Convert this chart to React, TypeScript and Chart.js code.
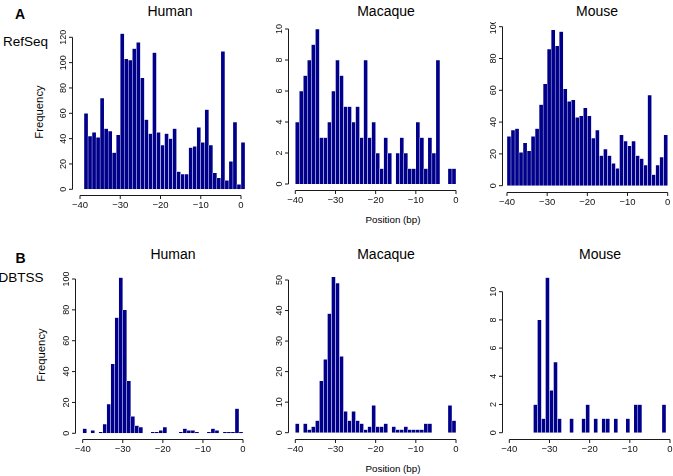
import React, { useEffect, useRef } from "react";
import { Chart, registerables } from "chart.js";

Chart.register(...registerables);

// ---------- data ----------
const positionTicks = [-40, -30, -20, -10, 0];

// RefSeq histograms (counts per 1-bp bin, first bin start given separately)
const refseqHumanStart = -39;
const refseqHuman = [60, 42, 45, 41, 72, 48, 46, 29, 43, 123, 103, 102, 111, 116, 88, 55, 44, 108, 45, 35, 44, 40, 48, 14, 12, 12, 33, 34, 49, 37, 63, 35, 13, 9, 109, 7, 22, 53, 4, 37];
const refseqHumanTicks = [0, 20, 40, 60, 80, 100, 120];

const refseqMacaqueStart = -40;
const refseqMacaque = [4, 6, 7, 8, 9, 10, 3, 3, 4, 6, 8, 7, 5, 5, 4, 5, 3, 8, 3, 4, 2, 1, 3, 2, 0, 2, 3, 2, 1, 1, 4, 3, 1, 3, 2, 8, 0, 0, 1, 1];
const refseqMacaqueTicks = [0, 2, 4, 6, 8, 10];

const refseqMouseStart = -40;
const refseqMouse = [31, 35, 36, 21, 27, 22, 31, 36, 51, 64, 86, 98, 88, 97, 61, 53, 54, 43, 44, 49, 44, 30, 35, 19, 23, 19, 14, 11, 32, 28, 25, 28, 19, 17, 13, 57, 7, 13, 18, 32];
const refseqMouseTicks = [0, 20, 40, 60, 80, 100];

// DBTSS histograms
const dbtssHumanStart = -40;
const dbtssHuman = [3, 0, 2, 0, 1, 6, 19, 45, 75, 101, 80, 34, 11, 5, 4, 0, 0, 1, 1, 2, 4, 0, 0, 0, 1, 3, 2, 2, 1, 0, 0, 1, 3, 2, 0, 1, 1, 1, 16, 1];
const dbtssHumanTicks = [0, 20, 40, 60, 80, 100];

const dbtssMacaqueStart = -40;
const dbtssMacaque = [3, 0, 3, 1, 2, 4, 17, 24, 39, 51, 49, 25, 7, 4, 7, 4, 3, 1, 2, 9, 2, 2, 3, 0, 2, 1, 1, 2, 1, 1, 1, 1, 3, 3, 0, 0, 0, 0, 9, 4];
const dbtssMacaqueTicks = [0, 10, 20, 30, 40, 50];

const dbtssMouseStart = -40;
const dbtssMouse = [0, 0, 0, 0, 0, 0, 2, 8, 1, 11, 3, 5, 1, 0, 0, 1, 0, 0, 1, 2, 0, 1, 0, 1, 1, 0, 1, 0, 0, 1, 0, 2, 2, 0, 0, 0, 0, 0, 2, 0];
const dbtssMouseTicks = [0, 2, 4, 6, 8, 10];

// ---------- styles ----------
const BAR = "#00008B";
const EDGE = "rgba(255,255,255,0.85)";
const AXIS = "#1a1a1a";
const FONT = '"Liberation Sans", Arial, Helvetica, sans-serif';

const fmt = (v: number) => (v < 0 ? "\u2212" + String(-v) : String(v));

const rAxes = {
  id: "rAxes",
  afterDraw(chart: any, _args: any, opts: any) {
    const { ctx } = chart;
    const xs = chart.scales.x;
    const ys = chart.scales.y;
    ctx.save();
    ctx.strokeStyle = AXIS;
    ctx.fillStyle = "#111";
    ctx.lineWidth = 1;
    // x axis
    const base = ys.getPixelForValue(0);
    const ay = Math.round(base + opts.xGap) + 0.5;
    const xa = xs.getPixelForValue(positionTicks[0]);
    const xb = xs.getPixelForValue(positionTicks[positionTicks.length - 1]);
    ctx.beginPath();
    ctx.moveTo(xa, ay);
    ctx.lineTo(xb, ay);
    for (const t of positionTicks) {
      const px = xs.getPixelForValue(t);
      ctx.moveTo(px, ay);
      ctx.lineTo(px, ay + 3.5);
    }
    ctx.stroke();
    ctx.font = "9.5px " + FONT;
    ctx.textAlign = "center";
    ctx.textBaseline = "middle";
    for (const t of positionTicks) {
      ctx.fillText(fmt(t), xs.getPixelForValue(t), ay + 9.5);
    }
    // y axis
    const yt: number[] = opts.yTicks;
    const ax = Math.round(xa - opts.yGap) + 0.5;
    const ya = ys.getPixelForValue(yt[0]);
    const yb = ys.getPixelForValue(yt[yt.length - 1]);
    ctx.beginPath();
    ctx.moveTo(ax, ya);
    ctx.lineTo(ax, yb);
    for (const t of yt) {
      const py = ys.getPixelForValue(t);
      ctx.moveTo(ax, py);
      ctx.lineTo(ax - 3.5, py);
    }
    ctx.stroke();
    ctx.font = "9px " + FONT;
    for (const t of yt) {
      const py = ys.getPixelForValue(t);
      ctx.save();
      ctx.translate(ax - 9, py);
      ctx.rotate(-Math.PI / 2);
      ctx.fillText(fmt(t), 0, 0);
      ctx.restore();
    }
    ctx.restore();
  },
};

type Geo = { x40: number; x0: number; y0: number; yT: number; yMax: number; yGap: number };

function Panel(props: { values: number[]; start: number; yTicks: number[]; geo: Geo }) {
  const { values, start, yTicks, geo } = props;
  const ref = useRef<HTMLCanvasElement>(null);
  const span = positionTicks[positionTicks.length - 1] - positionTicks[0];
  const ppu = (geo.x0 - geo.x40) / span;
  const T = yTicks[yTicks.length - 1];
  const ppv = (geo.y0 - geo.yT) / T;
  const xmin = positionTicks[0] - 1.5;
  const chartLeft = geo.x40 - 1.5 * ppu;
  const chartRight = Math.min(geo.x0 + 1.25 * ppu, 672.5);
  const xmax = positionTicks[positionTicks.length - 1] + (chartRight - geo.x0) / ppu;
  const chartTop = geo.y0 - geo.yMax * ppv;
  const boxLeft = Math.floor(geo.x40 - geo.yGap - 22);
  const boxTop = Math.floor(chartTop - 3);
  const boxRight = Math.min(673, Math.ceil(chartRight + 1));
  const boxBottom = Math.ceil(geo.y0 + 22);
  const w = boxRight - boxLeft;
  const h = boxBottom - boxTop;

  useEffect(() => {
    const el = ref.current;
    if (!el) return;
    const chart = new Chart(el, {
      type: "bar",
      data: {
        datasets: [
          {
            data: values.map((v, i) => ({ x: start + i + 0.5, y: v })) as any,
            backgroundColor: BAR,
            borderColor: EDGE,
            borderWidth: 0.5,
            borderSkipped: "start",
            barPercentage: 1,
            categoryPercentage: 1,
          },
        ],
      },
      options: {
        animation: false,
        responsive: false,
        devicePixelRatio: 1,
        events: [],
        layout: {
          padding: {
            left: chartLeft - boxLeft,
            right: boxRight - chartRight,
            top: chartTop - boxTop,
            bottom: boxBottom - geo.y0,
          },
        },
        scales: {
          x: {
            type: "linear",
            min: xmin,
            max: xmax,
            offset: false,
            display: false,
            afterBuildTicks: (s: any) => {
              s.ticks = positionTicks.map((v) => ({ value: v }));
            },
          },
          y: {
            type: "linear",
            min: 0,
            max: geo.yMax,
            display: false,
            afterBuildTicks: (s: any) => {
              s.ticks = yTicks.map((v) => ({ value: v }));
            },
          },
        },
        plugins: {
          legend: { display: false },
          tooltip: { enabled: false },
          rAxes: { xGap: 6, yGap: geo.yGap, yTicks },
        } as any,
      },
      plugins: [rAxes],
    } as any);
    return () => chart.destroy();
  }, []);

  return (
    <canvas
      ref={ref}
      width={w}
      height={h}
      style={{ position: "absolute", left: boxLeft, top: boxTop, width: w, height: h }}
    />
  );
}

function Label(props: {
  text: string;
  x: number;
  y: number;
  size: number;
  bold?: boolean;
  rotate?: boolean;
  align?: "left" | "center" | "right";
}) {
  const { text, x, y, size, bold, rotate, align = "center" } = props;
  const tx = align === "left" ? "0" : align === "right" ? "-100%" : "-50%";
  return (
    <div
      style={{
        position: "absolute",
        left: x,
        top: y,
        transform: `translate(${tx}, -50%)` + (rotate ? " rotate(-90deg)" : ""),
        transformOrigin: "center center",
        fontFamily: FONT,
        fontSize: size,
        fontWeight: bold ? 700 : 400,
        lineHeight: 1,
        whiteSpace: "nowrap",
        color: "#000",
      }}
    >
      {text}
    </div>
  );
}

export default function App() {
  return (
    <div
      style={{
        position: "absolute",
        left: 0,
        top: 0,
        width: 673,
        height: 476,
        overflow: "hidden",
        background: "#fff",
      }}
    >
      <Panel values={refseqHuman} start={refseqHumanStart} yTicks={refseqHumanTicks}
        geo={{ x40: 80, x0: 241, y0: 189.3, yT: 37.3, yMax: 125, yGap: 8.3 }} />
      <Panel values={refseqMacaque} start={refseqMacaqueStart} yTicks={refseqMacaqueTicks}
        geo={{ x40: 295.3, x0: 456, y0: 184, yT: 29, yMax: 10.3, yGap: 7.6 }} />
      <Panel values={refseqMouse} start={refseqMouseStart} yTicks={refseqMouseTicks}
        geo={{ x40: 507, x0: 667.7, y0: 185.7, yT: 26.7, yMax: 100.5, yGap: 5 }} />
      <Panel values={dbtssHuman} start={dbtssHumanStart} yTicks={dbtssHumanTicks}
        geo={{ x40: 82.7, x0: 243, y0: 433.3, yT: 279, yMax: 102, yGap: 7.7 }} />
      <Panel values={dbtssMacaque} start={dbtssMacaqueStart} yTicks={dbtssMacaqueTicks}
        geo={{ x40: 295.3, x0: 456, y0: 432.7, yT: 280, yMax: 52, yGap: 7.6 }} />
      <Panel values={dbtssMouse} start={dbtssMouseStart} yTicks={dbtssMouseTicks}
        geo={{ x40: 509.3, x0: 670, y0: 432.7, yT: 291.7, yMax: 11.2, yGap: 7 }} />

      <Label text="A" x={20} y={14} size={14} bold />
      <Label text="RefSeq" x={3} y={41.5} size={13.5} align="left" />
      <Label text="B" x={20.5} y={257.5} size={14} bold />
      <Label text="DBTSS" x={43.5} y={278} size={13.5} align="right" />

      <Label text="Human" x={170} y={11.3} size={14} />
      <Label text="Macaque" x={386} y={11} size={14} />
      <Label text="Mouse" x={597} y={11} size={14} />
      <Label text="Human" x={173} y={254} size={14} />
      <Label text="Macaque" x={386} y={254} size={14} />
      <Label text="Mouse" x={600} y={254} size={14} />

      <Label text="Frequency" x={40} y={111.7} size={11.3} rotate />
      <Label text="Frequency" x={41.7} y={355} size={11.3} rotate />
      <Label text="Position (bp)" x={393} y={220} size={9.8} />
      <Label text="Position (bp)" x={393} y={468.5} size={9.8} />
    </div>
  );
}
